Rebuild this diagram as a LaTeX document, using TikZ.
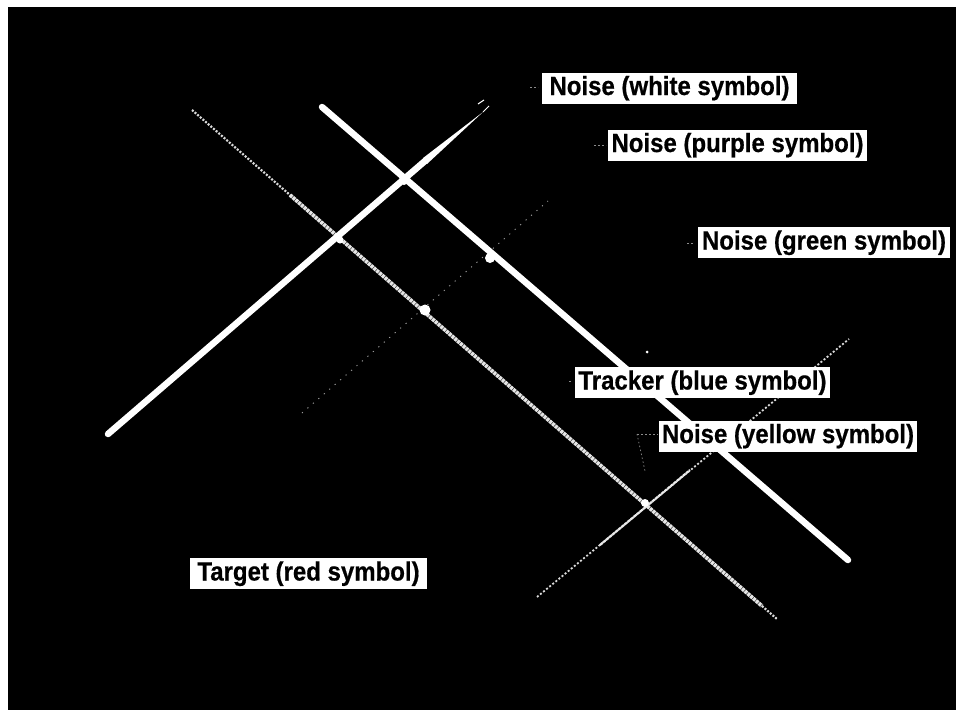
\documentclass[tikz,border=0pt]{standalone}
\usepackage{fontspec}
\setmainfont{Liberation Sans}
\newfontfamily\lblfont[FakeBold=0.6]{Liberation Sans Bold}
\newcommand{\tallt}[1]{\scalebox{1}[1.1]{#1}}
\begin{document}
\begin{tikzpicture}[x=1pt,y=-1pt,
  lbl/.style={fill=white,text=black,font=\fontsize{24}{26}\selectfont\lblfont,
    inner xsep=3pt,inner ysep=0pt,minimum height=31pt,text height=20pt,text depth=6pt},
  thickline/.style={draw=white,line width=6.5pt,line cap=round},
  speckle/.style={draw=white!90!black,line width=3.8pt,dash pattern=on 3pt off 0.7pt},
  faintdot/.style={draw=white!60!black,line width=0.9pt,dash pattern=on 1.2pt off 6pt},
  leader/.style={draw=white!55!black,line width=0.7pt,dash pattern=on 2pt off 2pt},
  blob/.style={fill=white}
]
\useasboundingbox (0,0) rectangle (956,710);
\fill[white] (0,0) rectangle (956,710);
\fill[black] (8,7) rectangle (956,710);

% coordinates
\coordinate (A1) at (322,107); \coordinate (A2) at (848,560);
\coordinate (B1) at (108,434); \coordinate (B2) at (425,161);
\coordinate (C0) at (192,110); \coordinate (C1) at (290,195);
\coordinate (C2) at (762,606); \coordinate (C3) at (777,619);
\coordinate (D1) at (302,413); \coordinate (D2) at (548,201);
\coordinate (E1) at (537,597); \coordinate (E2) at (849,339);

% faint dotted lines
\draw[faintdot] (D1) -- (D2);
\draw[draw=white!85!black,line width=1.8pt,dash pattern=on 2pt off 2pt] (E1) -- (E2);
\draw[draw=white!92!black,line width=2.2pt,dash pattern=on 3pt off 1pt] (600,545) -- (690,470);

% speckled line
\draw[draw=white!85!black,line width=2.2pt,dash pattern=on 2pt off 1.5pt] (C0) -- (C1);
\draw[speckle] (C1) -- (C2);
\draw[draw=white!85!black,line width=2.2pt,dash pattern=on 2pt off 1.5pt] (C2) -- (C3);

% thick lines
\draw[thickline] (A1) -- (A2);
\draw[thickline] (B1) -- (B2);
\fill[white] (427.2,163.8) -- (422.8,158.2) -- (483,112) -- cycle;
\draw[white,line width=1pt] (483,112) -- (489,106);
\draw[white,line width=1pt] (478,104) -- (484,100);

% blobs at crossings
\fill[blob] (425,310) circle (5.5pt);
\fill[blob] (490,258) circle (5pt);
\fill[blob] (645,503) circle (4pt);
\fill[blob] (340,240) circle (3.5pt);
\fill[blob] (404,180) circle (5pt);
\fill[blob] (647,352) circle (1.5pt);
\fill[blob] (420,164) ellipse (3pt and 1pt);

% leader ticks
\draw[leader] (530,87) -- (538,87);
\draw[leader] (594,145) -- (606,145);
\draw[leader] (687,243) -- (694,243);
\draw[leader] (569,381) -- (572,381);
\draw[leader] (637,434) -- (658,434);
\draw[draw=white!55!black,line width=0.7pt,dash pattern=on 1.5pt off 2.5pt] (637,434) -- (645,471);

% labels
\node[lbl,minimum width=255pt] (nw) at (669.5,88) {\tallt{Noise (white symbol)}};
\node[lbl,minimum width=255pt] (np) at (737.5,145) {\tallt{Noise (purple symbol)}};
\node[lbl,minimum width=252pt] (ng) at (824,242.5) {\tallt{Noise (green symbol)}};
\node[lbl,minimum width=255pt] (tb) at (702.5,382.5) {\tallt{Tracker (blue symbol)}};
\node[lbl,minimum width=256pt] (ny) at (788,436) {\tallt{Noise (yellow symbol)}};
\node[lbl,minimum width=237pt] (tr) at (308.5,573.5) {\tallt{Target (red symbol)}};
\end{tikzpicture}
\end{document}
